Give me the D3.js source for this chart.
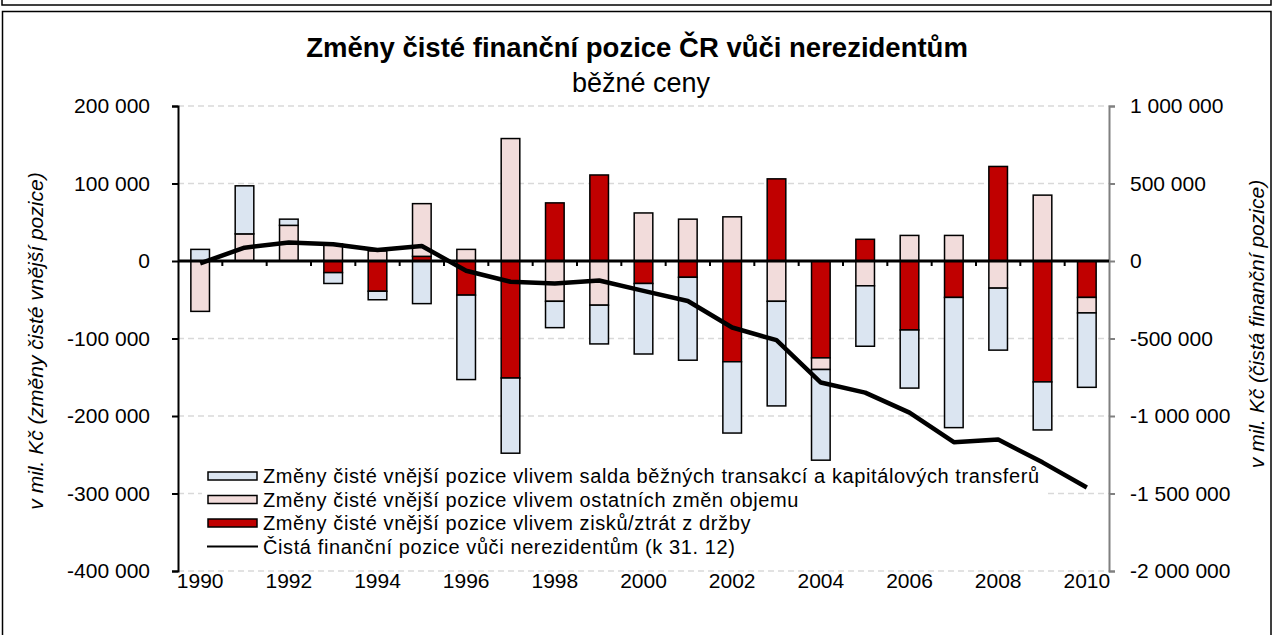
<!DOCTYPE html>
<html>
<head>
<meta charset="utf-8">
<script src="https://cdn.jsdelivr.net/npm/d3@7/dist/d3.min.js"></script>
<style>
  body { margin: 0; background: #fff; }
  svg { display: block; font-family: "Liberation Sans", Arial, sans-serif; }
</style>
</head>
<body>
<svg id="chart" width="1274" height="635"></svg>
<script>
// data (mil. Kč)
const years = d3.range(1990, 2011);
const saldo = [15000, 62000, 8000, -14000, -11000, -55000, -109000, -97000, -34000, -50000, -91000,
  -107000, -92000, -135000, -117000, -78000, -75000, -168000, -80000, -62000, -96000];
const ostatni = [-65000, 35000, 46000, 22000, 13000, 68000, 15000, 158000, -52000, -57000, 62000,
  54000, 57000, -52000, -15000, -32000, 33000, 33000, -35000, 85000, -20000];
const zisky = [0, 0, 0, -15000, -39000, 6000, -44000, -151000, 75000, 111000, -29000,
  -21000, -130000, 106000, -125000, 28000, -89000, -47000, 122000, -156000, -47000];
const pozice = [-15000, 86000, 119000, 108000, 71000, 97000, -63000, -134000, -145000, -126000, -193000,
  -258000, -429000, -511000, -784000, -849000, -978000, -1169000, -1152000, -1299000, -1461000];

const leftTicks = [200000, 100000, 0, -100000, -200000, -300000, -400000];
const rightTicks = [1000000, 500000, 0, -500000, -1000000, -1500000, -2000000];
const yearLabels = years.filter(y => y % 2 === 0);

const legendLabels = [
  'Změny čisté vnější pozice vlivem salda běžných transakcí a kapitálových transferů',
  'Změny čisté vnější pozice vlivem ostatních změn objemu',
  'Změny čisté vnější pozice vlivem zisků/ztrát z držby',
  'Čistá finanční pozice vůči nerezidentům (k 31. 12)'
];

const colors = { saldo: '#dbe5f1', ostatni: '#f2dcdb', zisky: '#c00000' };

const svg = d3.select('#chart');
const locale = d3.formatLocale({ decimal: ',', thousands: ' ', grouping: [3], currency: ['', ''], minus: '-' });
const fmt = locale.format(',');

// frames
svg.append('rect').attr('x', 2).attr('y', -10).attr('width', 1269).attr('height', 15)
  .attr('fill', 'none').attr('stroke', '#000').attr('stroke-width', 1.5);
svg.append('rect').attr('x', 2.5).attr('y', 11.5).attr('width', 1268.5).attr('height', 640)
  .attr('fill', 'none').attr('stroke', '#000').attr('stroke-width', 1.5);

const plotL = 178, plotR = 1109, plotT = 106, plotB = 571;

const x = d3.scaleBand().domain(years).range([plotL, plotR]).paddingInner(0.58).paddingOuter(0.29);
const yL = d3.scaleLinear().domain([-400000, 200000]).range([plotB, plotT]);
const yR = d3.scaleLinear().domain([-2000000, 1000000]).range([plotB, plotT]);

// title
svg.append('text').attr('x', 637).attr('y', 57).attr('text-anchor', 'middle')
  .attr('font-size', 27.5).attr('font-weight', 'bold').text('Změny čisté finanční pozice ČR vůči nerezidentům');
svg.append('text').attr('x', 641).attr('y', 92).attr('text-anchor', 'middle')
  .attr('font-size', 27).text('běžné ceny');

// gridlines
svg.append('g').selectAll('line').data(leftTicks).join('line')
  .attr('x1', plotL).attr('x2', plotR)
  .attr('y1', d => yL(d)).attr('y2', d => yL(d))
  .attr('stroke', '#d9d9d9').attr('stroke-width', 1.5).attr('stroke-dasharray', '6,4');

// stacked bars
const table = years.map((y, i) => ({ year: y, zisky: zisky[i], ostatni: ostatni[i], saldo: saldo[i] }));
const series = d3.stack().keys(['zisky', 'ostatni', 'saldo']).offset(d3.stackOffsetDiverging)(table);

svg.append('g').selectAll('g').data(series).join('g')
  .attr('fill', d => colors[d.key])
  .selectAll('rect').data(d => d.filter(p => p[1] !== p[0])).join('rect')
  .attr('x', d => x(d.data.year))
  .attr('width', x.bandwidth())
  .attr('y', d => yL(Math.max(d[0], d[1])))
  .attr('height', d => Math.abs(yL(d[0]) - yL(d[1])))
  .attr('stroke', '#000').attr('stroke-width', 1.5);

// left axis
const axL = svg.append('g').attr('transform', `translate(${plotL},0)`)
  .call(d3.axisLeft(yL).tickValues(leftTicks).tickSize(6).tickPadding(22).tickFormat(fmt));
axL.select('.domain').attr('stroke', '#000').attr('stroke-width', 2);
axL.selectAll('.tick line').attr('stroke-width', 2);
axL.selectAll('text').attr('font-size', 21).attr('fill', '#000');

// right axis
const axR = svg.append('g').attr('transform', `translate(${plotR},0)`)
  .call(d3.axisRight(yR).tickValues(rightTicks).tickSize(6).tickPadding(15).tickFormat(fmt));
axR.select('.domain').attr('stroke', '#808080').attr('stroke-width', 2);
axR.selectAll('.tick line').attr('stroke', '#808080').attr('stroke-width', 2);
axR.selectAll('text').attr('font-size', 21).attr('fill', '#000');

// category axis at zero
const axX = svg.append('g').attr('transform', `translate(0,${yL(0)})`);
axX.append('line').attr('x1', plotL).attr('x2', plotR).attr('stroke', '#000').attr('stroke-width', 3);
axX.selectAll('.minor').data(years.slice(1)).join('line').classed('minor', true)
  .attr('x1', d => x(d) - x.step() * x.paddingInner() / 2).attr('x2', d => x(d) - x.step() * x.paddingInner() / 2)
  .attr('y1', 0).attr('y2', 5).attr('stroke', '#000').attr('stroke-width', 2);

svg.append('g').selectAll('text').data(yearLabels).join('text')
  .attr('x', d => x(d) + x.bandwidth() / 2).attr('y', plotB + 17)
  .attr('text-anchor', 'middle').attr('font-size', 21).text(d => d);

// legend
const leg = svg.append('g');
leg.append('rect').attr('x', 202).attr('y', 465).attr('width', 846).attr('height', 90).attr('fill', '#fff');
const legItems = [
  { label: legendLabels[0], fill: colors.saldo },
  { label: legendLabels[1], fill: colors.ostatni },
  { label: legendLabels[2], fill: colors.zisky },
  { label: legendLabels[3], fill: null }
];
const rowY = i => 476 + i * 23.5;
legItems.forEach((d, i) => {
  if (d.fill) {
    leg.append('rect').attr('x', 208).attr('y', rowY(i) - 4).attr('width', 49).attr('height', 8)
      .attr('fill', d.fill).attr('stroke', '#000').attr('stroke-width', 1.5);
  } else {
    leg.append('line').attr('x1', 207).attr('x2', 258).attr('y1', rowY(i)).attr('y2', rowY(i))
      .attr('stroke', '#000').attr('stroke-width', 2);
  }
  leg.append('text').attr('x', 263).attr('y', rowY(i) + 7).attr('font-size', 20)
    .attr('letter-spacing', 0.6).text(d.label);
});

// line
const line = d3.line().x((d, i) => x(years[i]) + x.bandwidth() / 2).y(d => yR(d));
svg.append('path').datum(pozice).attr('d', line)
  .attr('fill', 'none').attr('stroke', '#000').attr('stroke-width', 4.5).attr('stroke-linejoin', 'round');

// axis titles
svg.append('text').attr('transform', 'translate(43,341) rotate(-90)').attr('text-anchor', 'middle')
  .attr('font-size', 21).attr('font-style', 'italic').text('v mil. Kč (změny čisté vnější pozice)');
svg.append('text').attr('transform', 'translate(1264,324) rotate(-90)').attr('text-anchor', 'middle')
  .attr('font-size', 21).attr('font-style', 'italic').text('v mil. Kč (čistá finanční pozice)');
</script>
</body>
</html>
